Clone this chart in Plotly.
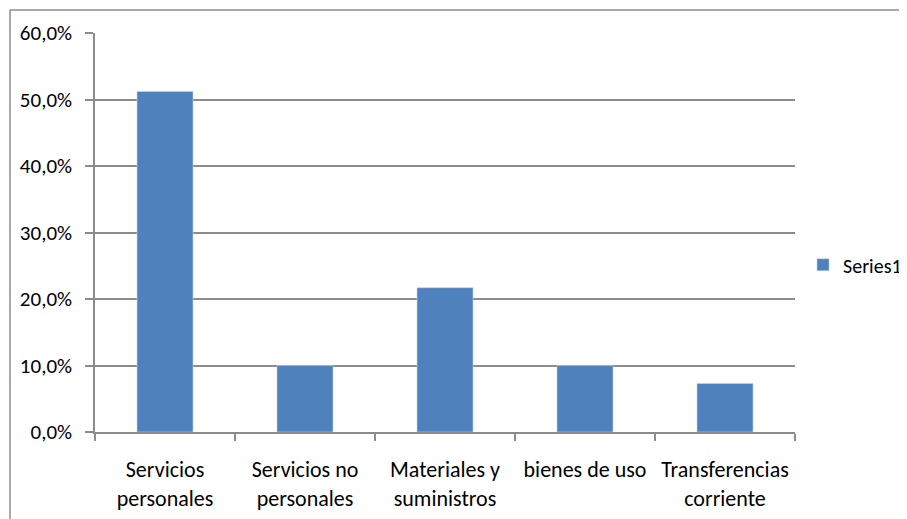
import plotly.graph_objects as go

categories = ["Servicios<br>personales", "Servicios no<br>personales", "Materiales y<br>suministros",
              "bienes de uso", "Transferencias<br>corriente"]
values = [0.512, 0.100, 0.217, 0.100, 0.073]
series_name = "Series1"

FONT = "Carlito, Calibri, Lato, 'Open Sans', sans-serif"
GRID = "#8c8c8c"

# page has an 8px body margin: figure coords = page coords - 8
OFF = 8
W, H = 907 - OFF, 519 - OFF
PL, PR, PT, PB = 95, 795, 33, 432.5   # plot area in page pixels
L, T = PL - OFF, PT - OFF
R = W - (PR - OFF)
B = H - (PB - OFF)
pw, ph = W - L - R, H - T - B

def px(x):
    return (x - PL) / pw

def py(y):
    return (PB - y) / ph

fig = go.Figure()
fig.add_trace(go.Bar(x=categories, y=values, name=series_name,
                     marker=dict(color="#4f81bd", line=dict(color="#c5d3e8", width=0.6)),
                     showlegend=True))

fig.update_layout(
    width=W, height=H,
    margin=dict(l=L, r=R, t=T, b=B, autoexpand=False),
    paper_bgcolor="white", plot_bgcolor="white",
    separators=",.",
    bargap=0.6,
    font=dict(family=FONT, size=20, color="#000000"),
    showlegend=True,
    legend=dict(x=px(803), y=py(265), xanchor="left", yanchor="middle",
                font=dict(family=FONT, size=20, color="#000000"),
                itemwidth=30, bgcolor="rgba(0,0,0,0)"),
    xaxis=dict(showgrid=False, showline=True, linecolor=GRID, linewidth=2,
               ticks="outside", ticklen=7, tickcolor=GRID, tickwidth=1.5,
               tickson="boundaries", automargin=False, ticklabelstandoff=17,
               tickfont=dict(family=FONT, size=22, color="#000000")),
    yaxis=dict(range=[0, 0.6], dtick=0.1, tickformat=".1%",
               showgrid=True, gridcolor=GRID, gridwidth=1.5,
               showline=True, linecolor=GRID, linewidth=1.5,
               ticks="outside", ticklen=8, tickcolor=GRID, tickwidth=1.5,
               zeroline=False, automargin=False, ticklabelstandoff=9,
               tickfont=dict(family=FONT, size=21, color="#000000")),
    shapes=[
        dict(type="line", xref="paper", yref="paper",
             x0=px(10), y0=py(10), x1=px(915), y1=py(10),
             line=dict(color="#8c8c8c", width=1.5)),
        dict(type="line", xref="paper", yref="paper",
             x0=px(10), y0=py(10), x1=px(10), y1=py(530),
             line=dict(color="#8c8c8c", width=1.5)),
    ],
)

fig.write_html("out.html")
